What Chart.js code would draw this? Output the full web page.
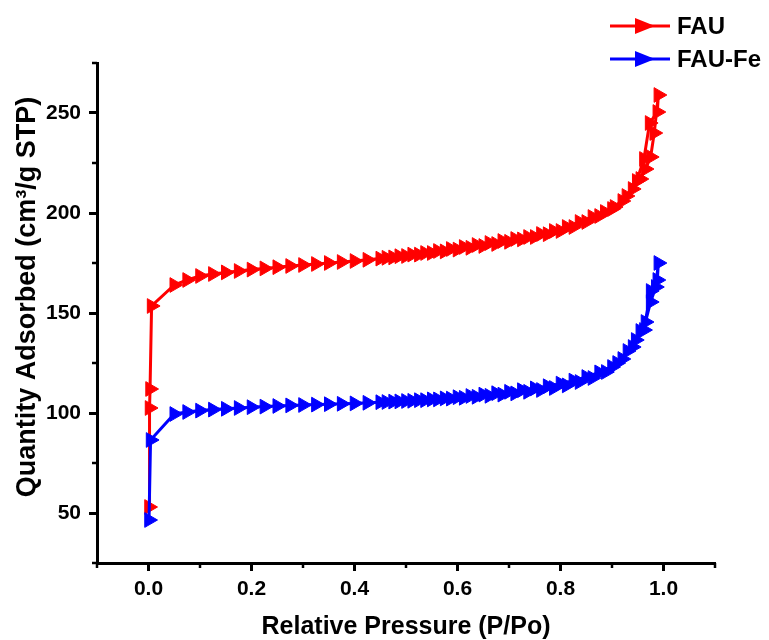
<!DOCTYPE html>
<html>
<head>
<meta charset="utf-8">
<script src="https://cdn.jsdelivr.net/npm/chart.js@4.4.1/dist/chart.umd.min.js"></script>
<style>
  html, body { margin: 0; padding: 0; background: #fff; }
  #wrap { width: 769px; height: 640px; }
</style>
</head>
<body>
<div id="wrap"><canvas id="myChart" width="769" height="640"></canvas></div>
<script>
// FAU isotherm (adsorption then desorption branch)
const fauX = [0.001, 0.002, 0.003, 0.006, 0.05, 0.075, 0.1, 0.125, 0.15, 0.175, 0.2, 0.225, 0.25, 0.275, 0.3, 0.325, 0.35, 0.375, 0.4, 0.425, 0.45, 0.475, 0.5, 0.525, 0.55, 0.575, 0.6, 0.625, 0.65, 0.675, 0.7, 0.725, 0.75, 0.775, 0.8, 0.825, 0.85, 0.875, 0.9, 0.92, 0.94, 0.955, 0.965, 0.975, 0.982, 0.99,
  0.988, 0.973, 0.962, 0.948, 0.928, 0.905, 0.886, 0.862, 0.837, 0.812, 0.787, 0.762, 0.737, 0.712, 0.687, 0.662, 0.637, 0.612, 0.587, 0.562, 0.537, 0.512, 0.487, 0.462];
const fauY = [53, 102.5, 112, 153.5, 164, 166.5, 168.5, 169.5, 170.3, 171, 171.7, 172.3, 172.9, 173.5, 174, 174.5, 175, 175.5, 176, 176.6, 177.2, 177.8, 178.5, 179.2, 180, 180.8, 181.7, 182.6, 183.5, 184.5, 185.6, 186.8, 188, 189.4, 191, 193, 195.5, 198.5, 202, 206, 212, 217, 222, 228, 240, 259,
  250.5, 245, 227, 216, 208.5, 203, 200.5, 198, 195.5, 193, 191, 189.5, 188, 187, 186, 185, 184, 183, 182, 181, 180, 179.2, 178.4, 177.6];

// FAU-Fe isotherm
const feX = [0.001, 0.004, 0.05, 0.075, 0.1, 0.125, 0.15, 0.175, 0.2, 0.225, 0.25, 0.275, 0.3, 0.325, 0.35, 0.375, 0.4, 0.425, 0.45, 0.475, 0.5, 0.525, 0.55, 0.575, 0.6, 0.625, 0.65, 0.675, 0.7, 0.725, 0.75, 0.775, 0.8, 0.825, 0.85, 0.875, 0.9, 0.92, 0.94, 0.955, 0.965, 0.975, 0.985, 0.99,
  0.988, 0.975, 0.962, 0.946, 0.93, 0.91, 0.888, 0.862, 0.837, 0.812, 0.787, 0.762, 0.737, 0.712, 0.687, 0.662, 0.637, 0.612, 0.587, 0.562, 0.537, 0.512, 0.487, 0.462];
const feY = [46.5, 86.5, 99.5, 100.5, 101.2, 101.7, 102.1, 102.5, 102.9, 103.2, 103.5, 103.8, 104, 104.2, 104.4, 104.6, 104.8, 105.1, 105.4, 105.7, 106, 106.4, 106.8, 107.3, 107.9, 108.5, 109.2, 109.9, 110.6, 111.4, 112.3, 113.4, 114.7, 116.2, 118, 120.3, 123, 127, 133, 141, 145.5, 155.5, 163, 175,
  166.5, 161, 141.5, 136.5, 131, 125, 120.5, 117.5, 115.5, 113.8, 112.5, 111.5, 110.6, 109.8, 109.2, 108.6, 108.1, 107.6, 107.2, 106.8, 106.4, 106.1, 105.8, 105.5];

const seriesNames = ['FAU', 'FAU-Fe'];
const xTicks = [0, 0.2, 0.4, 0.6, 0.8, 1.0];
const xMinor = [-0.1, 0.1, 0.3, 0.5, 0.7, 0.9, 1.1];
const yTicks = [50, 100, 150, 200, 250];
const yMinor = [25, 75, 125, 175, 225, 275];
const yTitle = 'Quantity Adsorbed (cm³/g STP)';

const toPoints = (xs, ys) => xs.map((v, i) => ({ x: v, y: ys[i] }));
const FONT = '"Liberation Sans", Arial, sans-serif';

// minor ticks, y title and line/marker legend
const extras = {
    id: 'extras',
    afterDraw(chart) {
        const ctx = chart.ctx;
        const xs = chart.scales.x, ys = chart.scales.y;
        ctx.save();
        ctx.strokeStyle = '#000';
        ctx.lineWidth = 2.5;
        xMinor.forEach(v => {
            const px = xs.getPixelForValue(v);
            ctx.beginPath();
            ctx.moveTo(px, xs.top);
            ctx.lineTo(px, xs.top + 5);
            ctx.stroke();
        });
        yMinor.forEach(v => {
            const py = ys.getPixelForValue(v);
            ctx.beginPath();
            ctx.moveTo(ys.right, py);
            ctx.lineTo(ys.right - 5, py);
            ctx.stroke();
        });

        // y axis title, a bit above the scale centre like the original
        ctx.save();
        ctx.translate(28, 297);
        ctx.rotate(-Math.PI / 2);
        ctx.fillStyle = '#000';
        ctx.font = 'bold 27px ' + FONT;
        ctx.textAlign = 'center';
        ctx.textBaseline = 'middle';
        ctx.fillText(yTitle, 0, 0);
        ctx.restore();

        const rows = [26, 59];
        chart.data.datasets.forEach((ds, i) => {
            const cy = rows[i];
            ctx.strokeStyle = ds.borderColor;
            ctx.fillStyle = ds.borderColor;
            ctx.lineWidth = 3;
            ctx.beginPath();
            ctx.moveTo(610, cy);
            ctx.lineTo(670, cy);
            ctx.stroke();
            ctx.beginPath();
            ctx.moveTo(655, cy);
            ctx.lineTo(635, cy - 8);
            ctx.lineTo(635, cy + 8);
            ctx.closePath();
            ctx.fill();
            ctx.fillStyle = '#000';
            ctx.font = 'bold 24px ' + FONT;
            ctx.textBaseline = 'middle';
            ctx.fillText(ds.label, 677, cy + 1);
        });
        ctx.restore();
    }
};

const ctx = document.getElementById('myChart').getContext('2d');
const myChart = new Chart(ctx, {
    type: 'scatter',
    data: {
        datasets: [{
            label: seriesNames[0],
            data: toPoints(fauX, fauY),
            showLine: true,
            borderColor: '#ff0000',
            backgroundColor: '#ff0000',
            borderWidth: 3,
            pointStyle: 'triangle',
            rotation: 90,
            radius: 8.5,
            pointBorderWidth: 1,
            order: 1
        }, {
            label: seriesNames[1],
            data: toPoints(feX, feY),
            showLine: true,
            borderColor: '#0000ff',
            backgroundColor: '#0000ff',
            borderWidth: 3,
            pointStyle: 'triangle',
            rotation: 90,
            radius: 8.5,
            pointBorderWidth: 1,
            order: 0
        }]
    },
    options: {
        responsive: false,
        animation: false,
        layout: { padding: { left: 0, top: 63, right: 54, bottom: 0 } },
        plugins: { legend: { display: false }, tooltip: { enabled: false } },
        scales: {
            x: {
                type: 'linear',
                min: -0.1,
                max: 1.1,
                afterBuildTicks: s => { s.ticks = xTicks.map(v => ({ value: v })); },
                afterFit: s => { s.height = 77; },
                grid: { drawOnChartArea: false, drawTicks: true, tickLength: 8, tickWidth: 3, tickColor: '#000' },
                border: { display: true, width: 3, color: '#000' },
                ticks: {
                    color: '#000',
                    padding: 6,
                    font: { family: FONT, size: 21, weight: 'bold' },
                    callback: v => v.toFixed(1)
                },
                title: {
                    display: true,
                    text: 'Relative Pressure (P/Po)',
                    color: '#000',
                    font: { family: FONT, size: 25, weight: 'bold', lineHeight: 1.0 },
                    padding: { top: 0, bottom: 0 }
                }
            },
            y: {
                type: 'linear',
                min: 25,
                max: 275,
                afterBuildTicks: s => { s.ticks = yTicks.map(v => ({ value: v })); },
                afterFit: s => { s.width = 97; },
                grid: { drawOnChartArea: false, drawTicks: true, tickLength: 8, tickWidth: 3, tickColor: '#000' },
                border: { display: true, width: 3, color: '#000' },
                ticks: {
                    color: '#000',
                    padding: 8,
                    font: { family: FONT, size: 21, weight: 'bold' }
                },
                title: { display: false }
            }
        }
    },
    plugins: [extras]
});
</script>
</body>
</html>
